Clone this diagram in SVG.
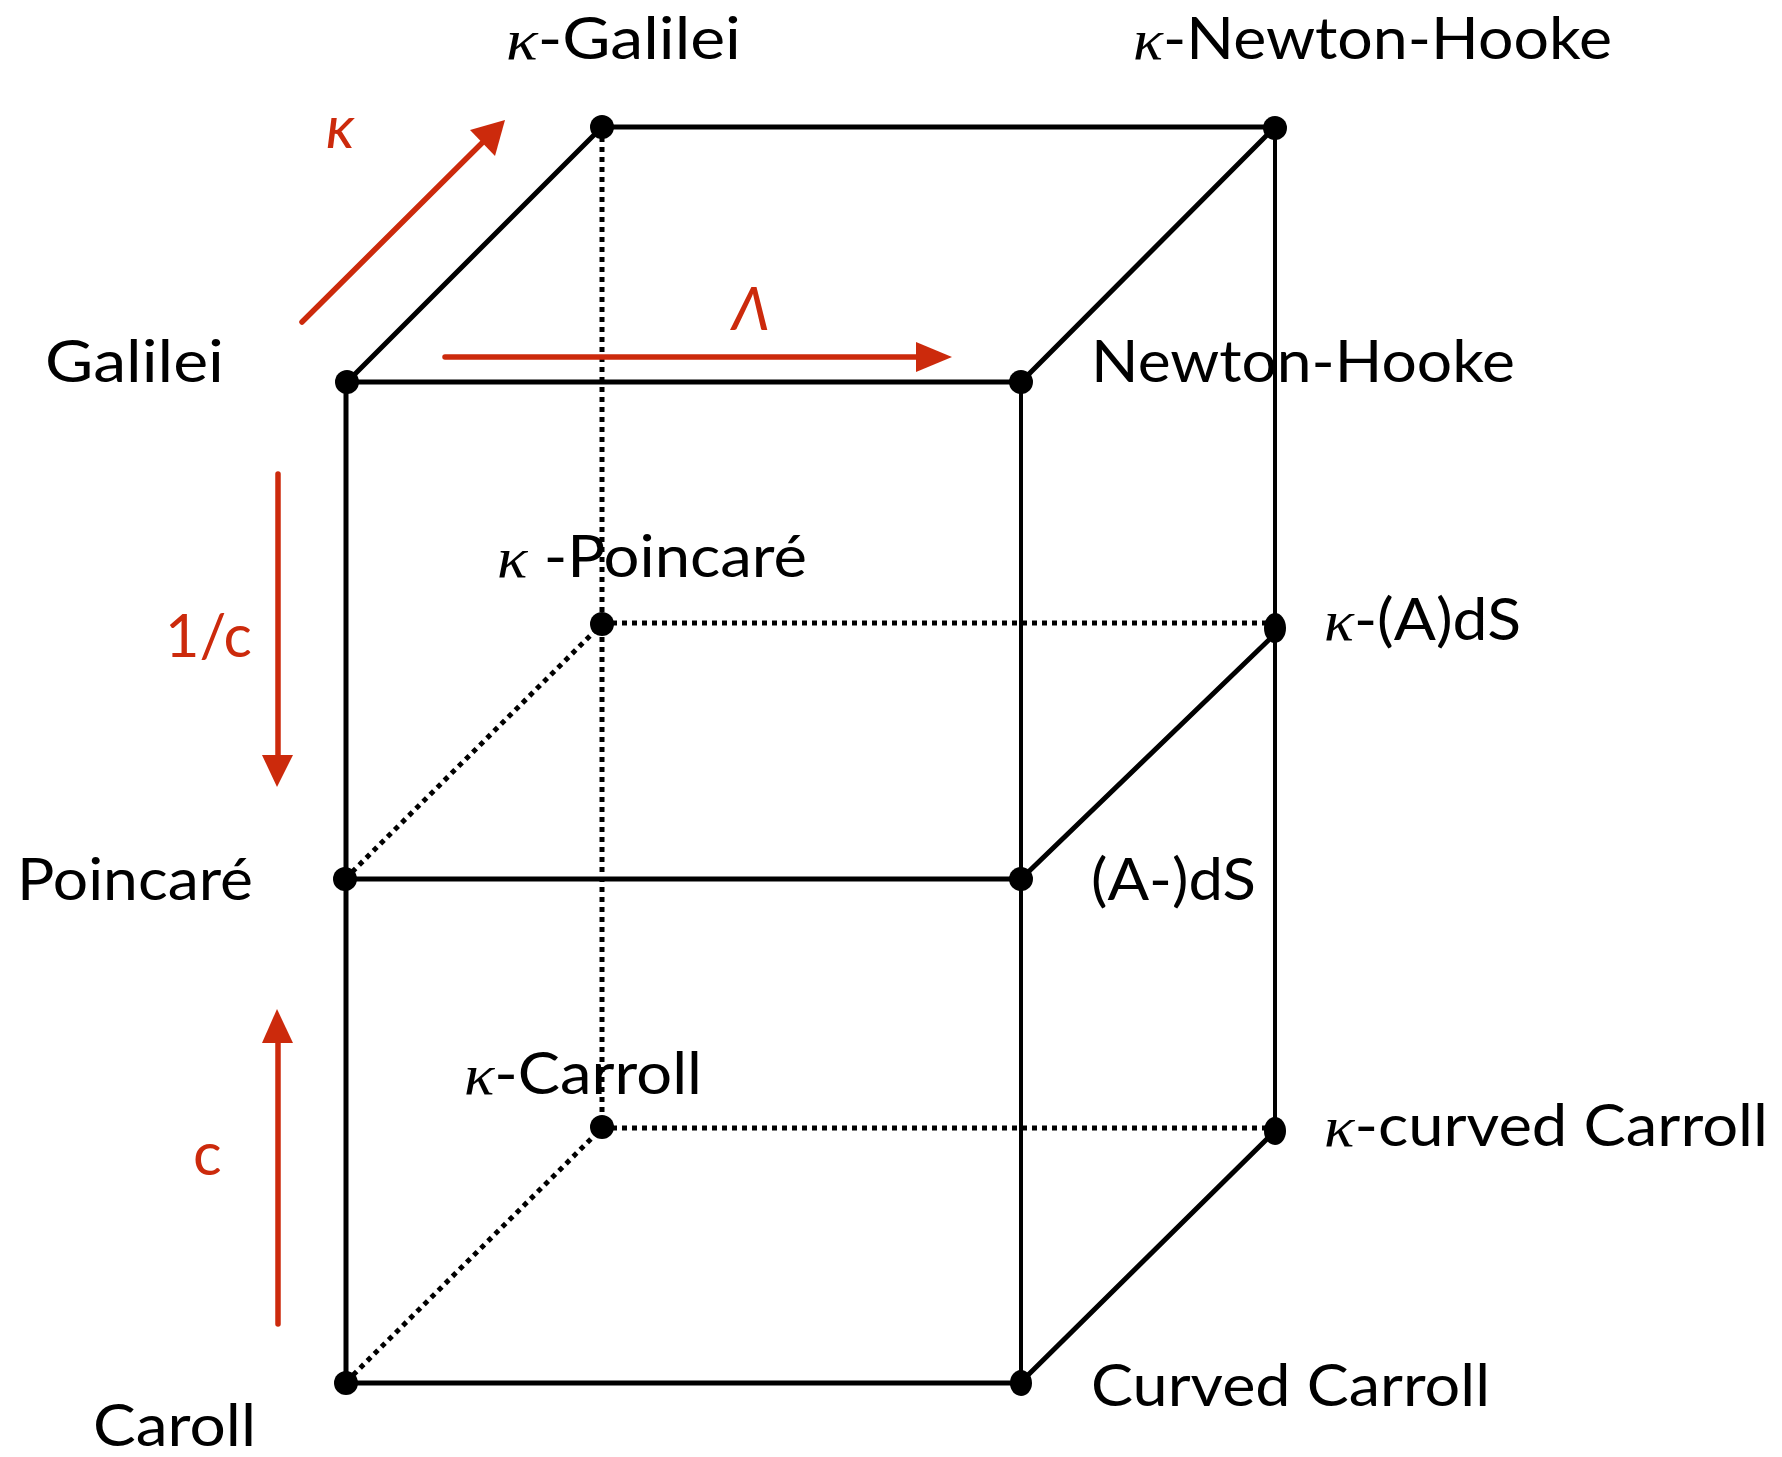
<svg xmlns="http://www.w3.org/2000/svg" width="1782" height="1457" viewBox="0 0 1782 1457">
<style>
.solid{stroke:#000;stroke-width:5;fill:none;stroke-linecap:round}
.thin{stroke:#000;stroke-width:4;fill:none}
.dot{stroke:#000;stroke-width:5;fill:none;stroke-dasharray:5 5}
.node{fill:#000}
.lbl{font-family:Lato,"Liberation Sans",sans-serif;font-size:58px;fill:#000}
.k{font-family:"Liberation Serif",serif;font-style:italic}
.red{stroke:#cc2a0c;stroke-width:5.5;fill:none;stroke-linecap:round}
.redfill{fill:#cc2a0c}
.rlbl{font-family:Lato,"Liberation Sans",sans-serif;font-size:60px;fill:#cc2a0c}
</style>
<rect width="1782" height="1457" fill="#fff"/>
<g id="connectors">
  <line class="dot" x1="602" y1="127" x2="602" y2="1127"/>
  <line class="dot" x1="602" y1="623" x2="1275" y2="623"/>
  <line class="dot" x1="345" y1="879" x2="602" y2="624"/>
  <line class="dot" x1="602" y1="1128" x2="1275" y2="1128"/>
  <line class="dot" x1="346" y1="1382" x2="602" y2="1128"/>
  <line class="solid" x1="347" y1="382" x2="1021" y2="382"/>
  <line class="solid" x1="347" y1="382" x2="602" y2="127"/>
  <line class="solid" x1="602" y1="127" x2="1275" y2="127"/>
  <line class="solid" x1="1021" y1="382" x2="1275" y2="127"/>
  <line class="thin" x1="1275" y1="127" x2="1275" y2="1128"/>
  <line class="solid" x1="346" y1="382" x2="346" y2="1382"/>
  <line class="thin" x1="1021" y1="382" x2="1021" y2="1382"/>
  <line class="solid" x1="345" y1="879" x2="1021" y2="879"/>
  <line class="solid" x1="1021" y1="879" x2="1275" y2="634"/>
  <line class="solid" x1="346" y1="1383" x2="1021" y2="1383"/>
  <line class="solid" x1="1021" y1="1382" x2="1275" y2="1131"/>
</g>
<g id="galilei"><circle class="node" cx="347" cy="382" r="12"/><text class="lbl" x="45" y="382" textLength="179" lengthAdjust="spacingAndGlyphs">Galilei</text></g>
<g id="newton-hooke"><circle class="node" cx="1021" cy="382" r="12"/><text class="lbl" x="1091" y="382" textLength="424" lengthAdjust="spacingAndGlyphs">Newton-Hooke</text></g>
<g id="k-galilei"><circle class="node" cx="602" cy="127" r="12"/><text class="lbl" x="506" y="59" textLength="235" lengthAdjust="spacingAndGlyphs"><tspan class="k">κ</tspan>-Galilei</text></g>
<g id="k-newton-hooke"><circle class="node" cx="1275" cy="128" r="12"/><text class="lbl" x="1133" y="59" textLength="479" lengthAdjust="spacingAndGlyphs"><tspan class="k">κ</tspan>-Newton-Hooke</text></g>
<g id="k-poincare"><circle class="node" cx="602" cy="624" r="12"/><text class="lbl" x="497" y="577" textLength="310" lengthAdjust="spacingAndGlyphs"><tspan class="k">κ</tspan> -Poincaré</text></g>
<g id="k-ads"><ellipse class="node" cx="1275" cy="628" rx="11" ry="15"/><text class="lbl" x="1324" y="640" textLength="197" lengthAdjust="spacingAndGlyphs"><tspan class="k">κ</tspan>-(A)dS</text></g>
<g id="poincare"><circle class="node" cx="345" cy="879" r="12"/><text class="lbl" x="17" y="900" textLength="236" lengthAdjust="spacingAndGlyphs">Poincaré</text></g>
<g id="ads"><circle class="node" cx="1021" cy="879" r="12"/><text class="lbl" x="1091" y="900" textLength="165" lengthAdjust="spacingAndGlyphs">(A-)dS</text></g>
<g id="k-carroll"><circle class="node" cx="602" cy="1127" r="12"/><text class="lbl" x="464" y="1094" textLength="238" lengthAdjust="spacingAndGlyphs"><tspan class="k">κ</tspan>-Carroll</text></g>
<g id="k-curved-carroll"><ellipse class="node" cx="1275" cy="1131" rx="11" ry="14"/><text class="lbl" x="1324" y="1146" textLength="444" lengthAdjust="spacingAndGlyphs"><tspan class="k">κ</tspan>-curved Carroll</text></g>
<g id="caroll"><circle class="node" cx="346" cy="1383" r="12"/><text class="lbl" x="93" y="1446" textLength="163" lengthAdjust="spacingAndGlyphs">Caroll</text></g>
<g id="curved-carroll"><ellipse class="node" cx="1021" cy="1383" rx="11" ry="13"/><text class="lbl" x="1091" y="1406" textLength="399" lengthAdjust="spacingAndGlyphs">Curved Carroll</text></g>
<g id="arrows">
  <line class="red" x1="302" y1="322" x2="485" y2="140"/>
  <polygon class="redfill" points="505,120 470,130 495,156"/>
  <text class="rlbl k" x="326" y="148" font-size="62">κ</text>
  <line class="red" x1="445" y1="357" x2="925" y2="357"/>
  <polygon class="redfill" points="952,357 916,342 916,372"/>
  <text class="rlbl k" x="732" y="330" font-size="60">Λ</text>
  <line class="red" x1="278" y1="474" x2="278" y2="762"/>
  <polygon class="redfill" points="277,787 262,755 293,755"/>
  <text class="rlbl" x="165" y="657" textLength="87" lengthAdjust="spacingAndGlyphs">1/c</text>
  <line class="red" x1="278" y1="1324" x2="278" y2="1036"/>
  <polygon class="redfill" points="277,1009 262,1043 293,1043"/>
  <text class="rlbl" x="193" y="1175">c</text>
</g>
</svg>
